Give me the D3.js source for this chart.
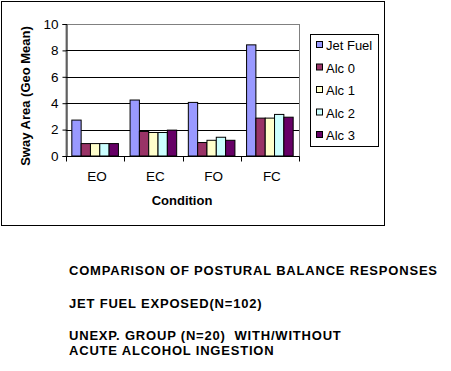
<!DOCTYPE html>
<html>
<head>
<meta charset="utf-8">
<script src="https://cdn.jsdelivr.net/npm/d3@7"></script>
<style>
  body { margin: 0; background: #fff; }
  svg { display: block; font-family: Arial, "Liberation Sans", sans-serif; }
</style>
</head>
<body>
<div id="chart"></div>
<script>
// data
var conditions = ['EO', 'EC', 'FO', 'FC']
var seriesNames = ['Jet Fuel', 'Alc 0', 'Alc 1', 'Alc 2', 'Alc 3']
var jetFuel = [2.72, 4.24, 4.06, 8.42]
var alc0 = [0.94, 1.86, 1.02, 2.87]
var alc1 = [0.94, 1.78, 1.19, 2.87]
var alc2 = [0.94, 1.78, 1.42, 3.15]
var alc3 = [0.94, 1.96, 1.19, 2.94]
var seriesColors = ['#9999ff', '#993366', '#ffffcc', '#ccffff', '#660066']
var yTicks = [0, 2, 4, 6, 8, 10]
var notes = [
  'COMPARISON OF POSTURAL BALANCE RESPONSES',
  'JET FUEL EXPOSED(N=102)',
  'UNEXP. GROUP (N=20)  WITH/WITHOUT',
  'ACUTE ALCOHOL INGESTION'
]

var values = [jetFuel, alc0, alc1, alc2, alc3]
var data = []
conditions.forEach(function(c, i){
  seriesNames.forEach(function(s, j){
    data.push({ cond: c, series: s, value: values[j][i], color: seriesColors[j] })
  })
})

var W = 451, H = 371
var plot = { left: 66, right: 299, top: 24, bottom: 156 }

var svg = d3.select('#chart').append('svg')
    .attr('width', W)
    .attr('height', H)

// outer chart border
svg.append('rect')
    .attr('x', 1.5).attr('y', 1.5)
    .attr('width', 383).attr('height', 224)
    .attr('fill', 'none')
    .attr('stroke', '#000')

var x = d3.scaleBand()
    .domain(conditions)
    .range([plot.left, plot.right])
    .paddingInner(0.2)
    .paddingOuter(0.1)

var xs = d3.scaleBand()
    .domain(seriesNames)
    .range([0, x.bandwidth()])

var y = d3.scaleLinear()
    .domain([0, 10])
    .range([plot.bottom, plot.top])

// plot area frame (grey)
svg.append('rect')
    .attr('x', plot.left).attr('y', y(10) + 0.5)
    .attr('width', plot.right - plot.left + 0.5).attr('height', plot.bottom - y(10))
    .attr('fill', 'none')
    .attr('stroke', '#808080')

// gridlines
svg.selectAll('.grid')
    .data(yTicks.filter(function(d){ return d > 0 && d < 10 }))
  .enter().append('line')
    .attr('x1', plot.left).attr('x2', plot.right)
    .attr('y1', function(d){ return Math.round(y(d)) + 0.5 })
    .attr('y2', function(d){ return Math.round(y(d)) + 0.5 })
    .attr('stroke', '#000')

// bars
svg.selectAll('.bar')
    .data(data)
  .enter().append('rect')
    .attr('class', 'bar')
    .attr('x', function(d){ return x(d.cond) + xs(d.series) })
    .attr('y', function(d){ return y(d.value) })
    .attr('width', xs.bandwidth())
    .attr('height', function(d){ return plot.bottom - y(d.value) })
    .attr('fill', function(d){ return d.color })
    .attr('stroke', '#000')
    .attr('stroke-width', 1)

// y axis
var yAxis = d3.axisLeft(y).tickValues(yTicks).tickSize(4).tickPadding(4)
var gy = svg.append('g')
    .attr('transform', 'translate(' + (plot.left + 0.5) + ',0)')
    .call(yAxis)
gy.selectAll('text').attr('font-size', '13.5px').attr('fill', '#000').attr('font-family', 'Arial, "Liberation Sans", sans-serif')
gy.selectAll('line,path').attr('stroke', '#000')

// x axis with ticks on category boundaries
var gx = svg.append('g')
    .attr('transform', 'translate(0,' + (plot.bottom + 0.5) + ')')
gx.append('line')
    .attr('x1', plot.left).attr('x2', plot.right + 0.5)
    .attr('stroke', '#000')
var step = (plot.right - plot.left) / conditions.length
gx.selectAll('.tick')
    .data(d3.range(conditions.length + 1))
  .enter().append('line')
    .attr('x1', function(i){ return Math.round(plot.left + i * step) + 0.5 })
    .attr('x2', function(i){ return Math.round(plot.left + i * step) + 0.5 })
    .attr('y1', 0).attr('y2', 5)
    .attr('stroke', '#000')
gx.selectAll('.lbl')
    .data(conditions)
  .enter().append('text')
    .attr('x', function(d){ return x(d) + x.bandwidth() / 2 + 2 })
    .attr('y', 24)
    .attr('text-anchor', 'middle')
    .attr('font-size', '13.5px')
    .text(function(d){ return d })

// axis titles
svg.append('text')
    .attr('transform', 'translate(30,' + 96 + ') rotate(-90)')
    .attr('text-anchor', 'middle')
    .attr('font-size', '13px')
    .attr('font-weight', 'bold')
    .text('Sway Area (Geo Mean)')

svg.append('text')
    .attr('x', 182)
    .attr('y', 205)
    .attr('text-anchor', 'middle')
    .attr('font-size', '13px')
    .attr('font-weight', 'bold')
    .text('Condition')

// legend
var legend = svg.append('g')
svg.append('rect')
    .attr('x', 310.5).attr('y', 34.5)
    .attr('width', 68).attr('height', 112)
    .attr('fill', 'none')
    .attr('stroke', '#000')
var ly = d3.scalePoint().domain(seriesNames).range([45, 135])
var items = legend.selectAll('.item')
    .data(seriesNames)
  .enter().append('g')
    .attr('transform', function(d){ return 'translate(0,' + ly(d) + ')' })
items.append('rect')
    .attr('x', 316.5).attr('y', -3.5)
    .attr('width', 6).attr('height', 6)
    .attr('fill', function(d, i){ return seriesColors[i] })
    .attr('stroke', '#000')
items.append('text')
    .attr('x', 326)
    .attr('y', 5)
    .attr('font-size', '13px')
    .text(function(d){ return d })

// notes below the chart
var noteY = [275, 308, 340, 355]
svg.selectAll('.note')
    .data(notes)
  .enter().append('text')
    .attr('x', 69)
    .attr('y', function(d, i){ return noteY[i] })
    .attr('font-size', '13px')
    .attr('font-weight', 'bold')
    .attr('letter-spacing', '0.8px')
    .style('white-space', 'pre')
    .text(function(d){ return d })
</script>
</body>
</html>
